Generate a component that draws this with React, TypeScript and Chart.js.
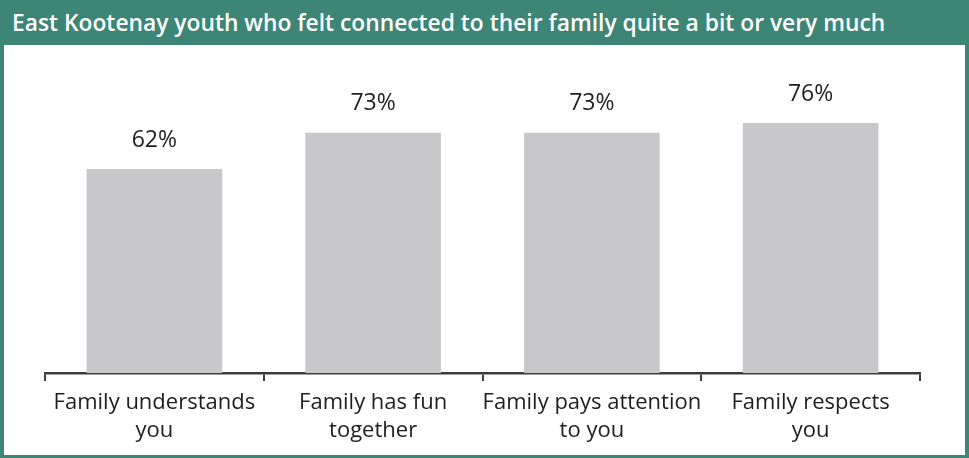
import React, { useEffect, useRef } from "react";
import { Chart, registerables } from "chart.js";

Chart.register(...registerables);

const TITLE = "East Kootenay youth who felt connected to their family quite a bit or very much";
const categories: string[][] = [
  ["Family understands", "you"],
  ["Family has fun", "together"],
  ["Family pays attention", "to you"],
  ["Family respects", "you"],
];
const values: number[] = [62, 73, 73, 76];
const valueLabels: string[] = ["62%", "73%", "73%", "76%"];

const TEAL = "#3d8576";
const FONT = "'Open Sans', 'Noto Sans', sans-serif";

export default function App() {
  const ref = useRef<HTMLCanvasElement | null>(null);

  useEffect(() => {
    if (!ref.current) return;
    const labelPlugin = {
      id: "valueLabels",
      afterDatasetsDraw(chart: any) {
        const ctx = chart.ctx;
        const meta = chart.getDatasetMeta(0);
        ctx.save();
        ctx.font = `23px ${FONT}`;
        ctx.fillStyle = "#222222";
        ctx.textAlign = "center";
        ctx.textBaseline = "middle";
        meta.data.forEach((bar: any, i: number) => {
          ctx.fillText(valueLabels[i], bar.x, bar.y - 29);
        });
        ctx.restore();
      },
    };
    const chart = new Chart(ref.current, {
      type: "bar",
      data: {
        labels: categories,
        datasets: [
          {
            data: values,
            backgroundColor: "#c8c8ca",
            borderWidth: 0,
            categoryPercentage: 1,
            barPercentage: 0.62,
          },
        ],
      },
      options: {
        animation: false,
        responsive: false,
        maintainAspectRatio: false,
        layout: { padding: { left: 45, right: 49, top: 44, bottom: 0 } },
        plugins: {
          legend: { display: false },
          tooltip: { enabled: false },
          title: { display: false },
        },
        scales: {
          y: { display: false, min: 0, max: 100 },
          x: {
            afterFit: (scale: any) => {
              scale.height = 85;
            },
            border: { display: true, color: "#3c3c3c", width: 2.5 },
            grid: {
              drawOnChartArea: false,
              drawTicks: true,
              tickLength: 8,
              color: "#3c3c3c",
              lineWidth: 2,
              offset: true,
            },
            ticks: {
              color: "#1e1e1e",
              font: { family: FONT, size: 22, lineHeight: 1.27 },
              padding: 8,
              maxRotation: 0,
              autoSkip: false,
            },
          },
        },
      },
      plugins: [labelPlugin],
    });
    return () => chart.destroy();
  }, []);

  return (
    <div
      style={{
        position: "fixed",
        left: 0,
        top: 0,
        width: 969,
        height: 458,
        background: TEAL,
        overflow: "hidden",
      }}
    >
      <div
        style={{
          position: "absolute",
          left: 12,
          top: 0,
          height: 46,
          lineHeight: "46px",
          color: "#ffffff",
          fontFamily: FONT,
          fontWeight: 600,
          fontSize: 22.8,
          whiteSpace: "nowrap",
        }}
      >
        {TITLE}
      </div>
      <div
        style={{
          position: "absolute",
          left: 4,
          top: 45,
          width: 961,
          height: 410,
          background: "#ffffff",
        }}
      />
      <canvas
        ref={ref}
        width={969}
        height={458}
        style={{ position: "absolute", left: 0, top: 0, width: 969, height: 458 }}
      />
    </div>
  );
}
